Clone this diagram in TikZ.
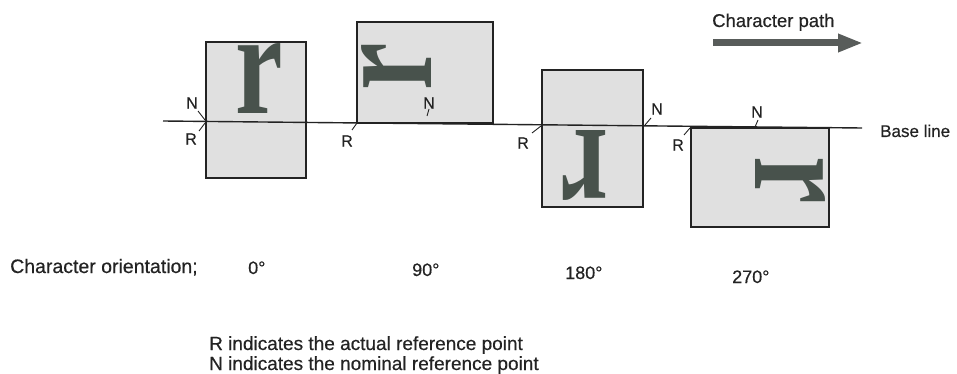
\documentclass[tikz,border=0pt]{standalone}
\usepackage{fontspec}
\usepackage{graphicx}
\setmainfont{Liberation Sans}
\newfontfamily\lblfont{Liberation Sans}[FakeBold=0.5]
\newfontfamily\rfont{Liberation Serif}
\usetikzlibrary{arrows.meta}
\definecolor{ink}{RGB}{35,35,35}
\definecolor{glyphc}{RGB}{72,82,76}
\definecolor{boxfill}{RGB}{224,224,224}
\definecolor{pathc}{RGB}{88,92,90}
\tikzset{
  cellbox/.style={draw=ink, line width=1.4pt, fill=boxfill},
  glyph/.style={inner sep=0pt, text=glyphc, font=\rfont\bfseries\fontsize{107}{107}\selectfont},
  reflbl/.style={inner sep=0pt, text=ink, font=\lblfont\fontsize{16}{16}\selectfont},
  tick/.style={draw=ink, line width=0.9pt},
  lbl/.style={inner sep=0pt, anchor=base west, text=ink},
}
\newcommand{\tallr}{\scalebox{1}[1.38]{r}}
\begin{document}
\begin{tikzpicture}[x=1pt,y=-1pt]
\useasboundingbox (0,0) rectangle (957,374);
% boxes
\path[cellbox] (206,42) rectangle (306,178);
\path[cellbox] (357,22) rectangle (493,123);
\path[cellbox] (542,70) rectangle (643,207);
\path[cellbox] (691,128) rectangle (829,227);
% base line
\coordinate (bl0) at (163,121);
\coordinate (bl1) at (862,128);
\draw[draw=ink, line width=1.4pt] (bl0) -- (bl1);
\node[lbl, font=\lblfont\fontsize{17}{17}\selectfont] (baselbl) at (880,137) {Base line};
% glyphs
\node[glyph, anchor=base west] (g0) at (235,114) {\tallr};
\node[glyph, anchor=base west, rotate=90] (g90) at (431,91) {\tallr};
\node[glyph, anchor=base west, rotate=180] (g180) at (609,131) {\tallr};
\node[glyph, anchor=base west, rotate=270] (g270) at (755,156) {\tallr};
% reference labels and ticks
\node[reflbl] (n0) at (192,103) {N};
\node[reflbl] (r0) at (191,139) {R};
\coordinate (n0p) at (205,120); \coordinate (r0p) at (205,123);
\draw[tick] (198,111) -- (n0p); \draw[tick] (199,131) -- (r0p);
\node[reflbl] (r90) at (347,141) {R};
\node[reflbl] (n90) at (429,103) {N};
\coordinate (r90p) at (357,123); \coordinate (n90p) at (427,116);
\draw[tick] (352,130) -- (r90p); \draw[tick] (429,109) -- (n90p);
\node[reflbl] (r180) at (523,143) {R};
\node[reflbl] (n180) at (657,109) {N};
\coordinate (r180p) at (541,126); \coordinate (n180p) at (645,125);
\draw[tick] (532,133) -- (r180p); \draw[tick] (651,118) -- (n180p);
\node[reflbl] (r270) at (678,145) {R};
\node[reflbl] (n270) at (757,112) {N};
\coordinate (r270p) at (690,128); \coordinate (n270p) at (755,127);
\draw[tick] (684,135) -- (r270p); \draw[tick] (758,120) -- (n270p);
% character path
\node[lbl, font=\lblfont\fontsize{18.5}{18.5}\selectfont] (cpath) at (712,27) {Character path};
\coordinate (ca) at (713,43); \coordinate (cb) at (863,43);
\draw[draw=pathc, line width=7pt, -{Triangle[length=25pt,width=17pt]}] (ca) -- (cb);
% orientation row
\node[lbl, font=\lblfont\fontsize{19.5}{19.5}\selectfont] (orient) at (10,273) {Character orientation;};
\node[lbl, font=\lblfont\fontsize{18}{18}\selectfont] (d0) at (248,274) {0°};
\node[lbl, font=\lblfont\fontsize{18}{18}\selectfont] (d90) at (412,276) {90°};
\node[lbl, font=\lblfont\fontsize{18}{18}\selectfont] (d180) at (565,279) {180°};
\node[lbl, font=\lblfont\fontsize{18}{18}\selectfont] (d270) at (732,283) {270°};
% footnotes
\node[lbl, font=\lblfont\fontsize{19}{19}\selectfont] (note1) at (209,350) {R indicates the actual reference point};
\node[lbl, font=\lblfont\fontsize{19}{19}\selectfont] (note2) at (209,370) {N indicates the nominal reference point};
\end{tikzpicture}
\end{document}
